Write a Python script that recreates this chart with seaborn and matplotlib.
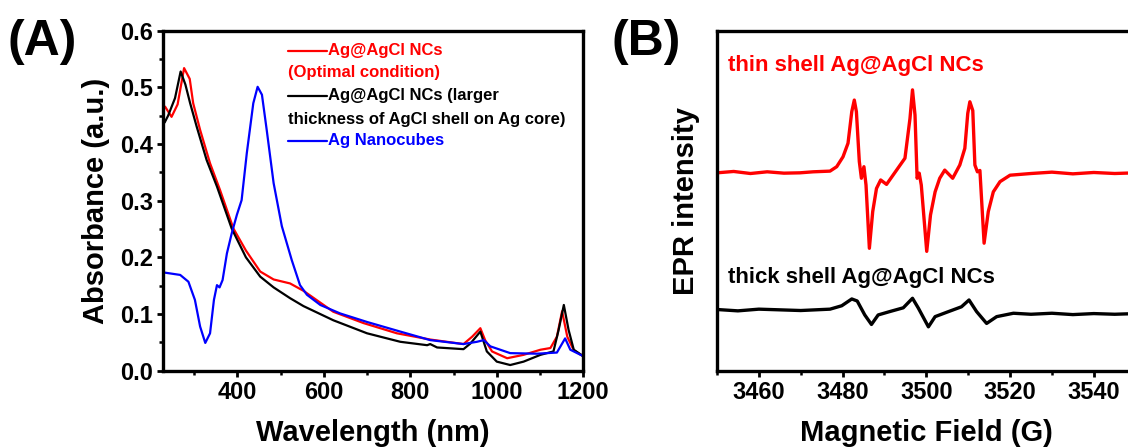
import numpy as np
import pandas as pd
import matplotlib
matplotlib.use("Agg")
import matplotlib.pyplot as plt
import seaborn as sns
from matplotlib.ticker import MultipleLocator, FormatStrFormatter

# ---------------- Panel A data (UV-vis) ----------------
wl_red = [233, 248, 262, 277, 290, 298, 314, 337, 360, 391, 420, 453, 484, 522, 553, 622, 692, 769, 846, 923, 943, 962, 973, 989, 1024, 1062, 1101, 1124, 1139, 1151, 1163, 1178, 1199]
ab_red = [0.466, 0.448, 0.470, 0.534, 0.515, 0.472, 0.425, 0.366, 0.319, 0.251, 0.212, 0.175, 0.161, 0.154, 0.141, 0.104, 0.084, 0.066, 0.055, 0.047, 0.060, 0.075, 0.054, 0.034, 0.022, 0.028, 0.037, 0.040, 0.060, 0.105, 0.060, 0.036, 0.026]

wl_black = [232, 240, 256, 269, 280, 291, 306, 329, 353, 387, 420, 453, 484, 522, 553, 622, 700, 777, 839, 846, 862, 923, 939, 962, 977, 1000, 1031, 1062, 1101, 1131, 1143, 1155, 1166, 1178, 1199]
ab_black = [0.438, 0.450, 0.481, 0.528, 0.505, 0.472, 0.431, 0.372, 0.325, 0.251, 0.200, 0.166, 0.147, 0.128, 0.114, 0.089, 0.066, 0.051, 0.045, 0.047, 0.041, 0.038, 0.048, 0.069, 0.034, 0.016, 0.010, 0.016, 0.028, 0.034, 0.072, 0.116, 0.072, 0.037, 0.026]

wl_blue = [233, 268, 287, 302, 314, 326, 337, 346, 353, 359, 366, 376, 387, 399, 410, 422, 437, 447, 457, 468, 484, 503, 526, 545, 561, 592, 638, 700, 777, 846, 923, 954, 970, 985, 1031, 1093, 1139, 1158, 1170, 1199]
ab_blue = [0.173, 0.169, 0.157, 0.125, 0.078, 0.049, 0.066, 0.125, 0.151, 0.147, 0.160, 0.207, 0.242, 0.275, 0.301, 0.384, 0.472, 0.501, 0.487, 0.425, 0.331, 0.255, 0.195, 0.151, 0.134, 0.116, 0.101, 0.086, 0.069, 0.054, 0.047, 0.051, 0.054, 0.043, 0.031, 0.030, 0.032, 0.057, 0.037, 0.026]

# ---------------- Panel B data (EPR) ----------------
field_thin = [3450, 3454, 3458, 3462, 3466, 3469.8, 3473, 3477.0, 3478.6, 3480.1, 3481.3, 3482.2, 3482.8, 3483.3, 3484.0, 3484.5, 3485.1, 3485.6, 3486.4, 3487.2, 3488.1, 3489.1, 3490.5, 3492.9, 3494.9, 3496.1, 3496.7, 3497.3, 3497.8, 3498.3, 3498.8, 3500.1, 3501.0, 3502.1, 3503.2, 3504.4, 3506.3, 3508.0, 3509.2, 3509.9, 3510.4, 3511.1, 3511.6, 3512.2, 3512.8, 3513.8, 3514.8, 3516.0, 3517.6, 3520, 3525, 3530, 3535, 3540, 3545, 3550]
epr_thin = [58.2, 58.6, 58.0, 58.5, 58.1, 58.2, 58.5, 58.7, 60.0, 62.9, 66.9, 76.2, 79.6, 76.2, 61.5, 56.6, 60.0, 54.6, 36.0, 46.8, 53.6, 56.1, 54.8, 59.0, 62.5, 74.2, 82.6, 75.2, 56.6, 58.1, 54.6, 35.1, 45.8, 52.6, 56.6, 59.0, 56.6, 60.5, 65.4, 75.7, 79.1, 76.5, 60.5, 58.5, 58.9, 37.5, 46.8, 52.6, 55.6, 57.5, 58.0, 58.4, 57.9, 58.3, 58.0, 58.2]

field_thick = [3450, 3455, 3460, 3465, 3470, 3477.0, 3479.8, 3482.2, 3483.5, 3485.3, 3486.9, 3488.5, 3491.3, 3494.5, 3496.7, 3498.1, 3500.5, 3502.1, 3504.9, 3508.4, 3510.2, 3512.0, 3514.4, 3516.8, 3520.8, 3525, 3530, 3535, 3540, 3545, 3550]
epr_thick = [18.0, 17.6, 18.1, 17.9, 17.7, 18.1, 19.1, 21.1, 20.5, 16.4, 13.6, 16.4, 17.4, 18.5, 21.3, 18.4, 12.9, 15.9, 17.2, 18.8, 20.8, 17.4, 13.9, 15.9, 16.9, 16.6, 16.9, 16.5, 16.8, 16.6, 16.8]

sns.set_style("ticks")
plt.rcParams['font.family'] = ['Liberation Sans', 'DejaVu Sans']
plt.rcParams['font.weight'] = 'bold'
plt.rcParams['axes.labelweight'] = 'bold'
for k in ['text.color', 'axes.labelcolor', 'xtick.color', 'ytick.color', 'axes.edgecolor']:
    plt.rcParams[k] = 'black'
plt.rcParams['axes.linewidth'] = 2.4
plt.rcParams['xtick.major.width'] = 2.0
plt.rcParams['ytick.major.width'] = 2.0
plt.rcParams['xtick.minor.width'] = 1.8
plt.rcParams['ytick.minor.width'] = 1.8
plt.rcParams['xtick.major.size'] = 4
plt.rcParams['ytick.major.size'] = 4
plt.rcParams['xtick.minor.size'] = 3
plt.rcParams['ytick.minor.size'] = 3

fig = plt.figure(figsize=(11.28, 4.47), dpi=100)
axA = fig.add_axes([0.1448, 0.1707, 0.3723, 0.7606])
axB = fig.add_axes([0.6356, 0.1707, 0.3712, 0.7606])

RED = '#ff0000'
BLACK = '#000000'
BLUE = '#0000ff'

dA = pd.concat([
    pd.DataFrame({'wl': wl_red, 'ab': ab_red, 's': 'red'}),
    pd.DataFrame({'wl': wl_black, 'ab': ab_black, 's': 'black'}),
    pd.DataFrame({'wl': wl_blue, 'ab': ab_blue, 's': 'blue'}),
])
sns.lineplot(data=dA, x='wl', y='ab', hue='s', hue_order=['red', 'black', 'blue'],
             palette=[RED, BLACK, BLUE], linewidth=1.6, sort=False, estimator=None,
             legend=False, ax=axA)
axA.set_xlim(229, 1200)
axA.set_ylim(0, 0.6)
axA.xaxis.set_minor_locator(MultipleLocator(100))
axA.yaxis.set_major_locator(MultipleLocator(0.1))
axA.yaxis.set_minor_locator(MultipleLocator(0.05))
axA.set_xticks([400, 600, 800, 1000, 1200])
axA.yaxis.set_major_formatter(FormatStrFormatter('%.1f'))
axA.set_xlabel('Wavelength (nm)', fontsize=21, fontweight='bold', labelpad=11)
axA.set_ylabel('Absorbance (a.u.)', fontsize=21, fontweight='bold', labelpad=7)
axA.tick_params(labelsize=17)
for lab in axA.get_xticklabels() + axA.get_yticklabels():
    lab.set_fontweight('bold')

# legend drawn as line samples + text (wrapping like the original)
leg = [(0.941, 0.876, RED, 'Ag@AgCl NCs', '(Optimal condition)'),
       (0.808, 0.739, BLACK, 'Ag@AgCl NCs (larger', 'thickness of AgCl shell on Ag core)'),
       (0.676, None, BLUE, 'Ag Nanocubes', None)]
for yy, y2, col, t1, t2 in leg:
    axA.plot([0.2976, 0.389], [yy, yy], transform=axA.transAxes, color=col, lw=1.6)
    axA.text(0.393, yy, t1, transform=axA.transAxes, color=col, fontsize=12,
             fontweight='bold', va='center', ha='left')
    if t2:
        axA.text(0.2976, y2, t2, transform=axA.transAxes, color=col, fontsize=12,
                 fontweight='bold', va='center', ha='left')

dB = pd.concat([
    pd.DataFrame({'f': field_thin, 'i': epr_thin, 's': 'thin'}),
    pd.DataFrame({'f': field_thick, 'i': epr_thick, 's': 'thick'}),
])
sns.lineplot(data=dB, x='f', y='i', hue='s', hue_order=['thin', 'thick'],
             palette=[RED, BLACK], linewidth=2.4, sort=False, estimator=None,
             legend=False, ax=axB)
axB.set_xlim(3450, 3550)
axB.set_ylim(0, 100)
axB.xaxis.set_minor_locator(MultipleLocator(10))
axB.set_xticks([3460, 3480, 3500, 3520, 3540])
axB.set_yticks([])
axB.tick_params(axis='x', labelsize=17)
for lab in axB.get_xticklabels():
    lab.set_fontweight('bold')
axB.set_xlabel('Magnetic Field (G)', fontsize=21, fontweight='bold', labelpad=11)
axB.set_ylabel('EPR intensity', fontsize=21, fontweight='bold', labelpad=12)
axB.text(0.026, 0.899, 'thin shell Ag@AgCl NCs', transform=axB.transAxes, color=RED,
         fontsize=16, fontweight='bold', va='center', ha='left')
axB.text(0.026, 0.273, 'thick shell Ag@AgCl NCs', transform=axB.transAxes, color=BLACK,
         fontsize=16, fontweight='bold', va='center', ha='left')

fig.text(0.007, 0.905, '(A)', fontsize=36, fontweight='bold', va='center', ha='left')
fig.text(0.542, 0.905, '(B)', fontsize=36, fontweight='bold', va='center', ha='left')

fig.savefig('out.png', dpi=100)
